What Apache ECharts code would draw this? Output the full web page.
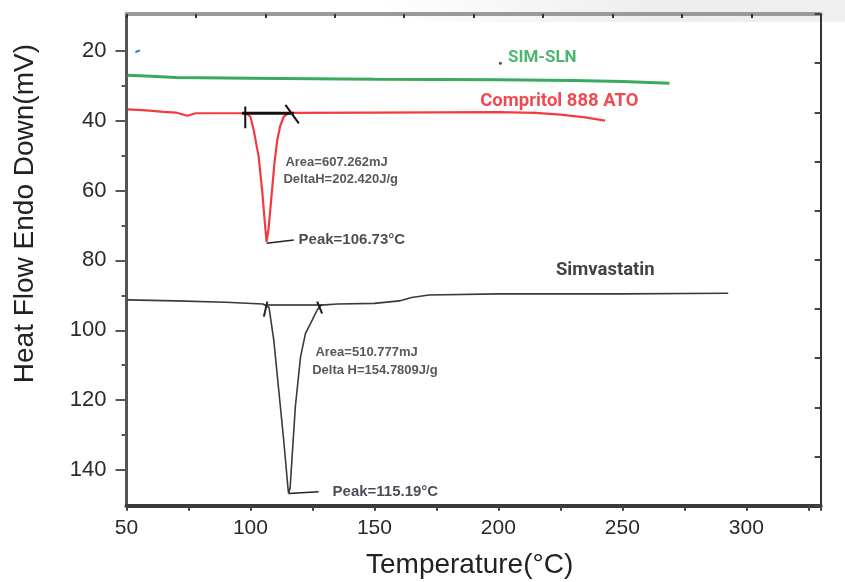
<!DOCTYPE html>
<html>
<head>
<meta charset="utf-8">
<script src="https://cdn.jsdelivr.net/npm/echarts@6/dist/echarts.min.js"></script>
<style>
html, body { margin: 0; padding: 0; background: #fff; }
#chart { width: 845px; height: 582px; }
</style>
</head>
<body>
<div id="chart"></div>
<script>
// DSC curves (temperature in °C, heat flow in mV, endo down)
const slnTemp  = [50.4, 60, 70, 100, 150, 200, 230, 250, 269];
const slnHeat  = [27.0, 27.3, 27.7, 27.9, 28.2, 28.3, 28.5, 28.8, 29.3];

const compTemp = [50.4, 58, 65, 70, 74.5, 78, 90, 97, 98.5, 100, 101.3, 103.3, 104.7, 105.8, 106.5, 107.3, 108.7, 109.7, 110.8, 112, 113.4, 115, 117.3, 150, 200, 215, 225, 235, 243];
const compHeat = [36.8, 37.1, 37.5, 37.7, 38.6, 37.9, 37.9, 37.9, 38.0, 38.9, 42.7, 50.3, 59.9, 69.3, 74.7, 71, 59.9, 52, 45.6, 41.5, 38.9, 38.1, 37.8, 37.7, 37.6, 37.8, 38.3, 39.1, 40.0];

const simvTemp = [50.4, 70, 90, 105, 107.5, 109.4, 111.4, 113.4, 115.2, 115.4, 116, 116.8, 118.1, 120.2, 122.2, 124.9, 126.9, 128.5, 135, 150, 160, 165, 172, 200, 250, 292.7];
const simvHeat = [91.3, 91.6, 92.0, 92.5, 93.5, 102.8, 117.1, 131.4, 145.7, 146.7, 145, 136.2, 121.9, 107.6, 100.9, 97.1, 94.2, 92.8, 92.5, 92.3, 91.6, 90.6, 89.9, 89.6, 89.6, 89.4];

// integration marks and leaders [temp, heat]
const compBase   = [[96.6, 37.9], [117.5, 37.9]];
const compLeft   = [[97.9, 36.0], [97.9, 42.2]];
const compRight  = [[114.1, 35.5], [119.5, 40.8]];
const compLeader = [[106.5, 75.1], [117.5, 74.2]];
const simvBase   = [[106.0, 92.8], [128.9, 92.8]];
const simvLeft   = [[105.4, 96.1], [106.8, 91.8]];
const simvRight  = [[126.9, 91.8], [128.9, 95.2]];
const simvLeader = [[115.4, 146.7], [115.6, 146.7], [127.5, 146.2]];
const blueDash   = [[53.6, 20.4], [55.4, 19.9]];

// text notes [temp, heat]
const noteText = ['Area=607.262mJ', 'DeltaH=202.420J/g', 'Peak=106.73°C', 'Area=510.777mJ', 'Delta H=154.7809J/g', 'Peak=115.19°C'];
const notePos  = [[114.1, 51.9], [113.3, 56.7], [119.4, 74.2], [126.2, 106.4], [124.9, 111.4], [133.1, 146.3]];
const noteSize = [13, 13, 15, 13, 13, 15];

const curveNames = ['SIM-SLN', 'Compritol 888 ATO', 'Simvastatin'];
const curveLabelPos = [[217.7, 22.1], [224.6, 34.4], [243.1, 82.8]];
const curveColors = ['#22a24c', '#ee1c24', '#111111'];
const curveSize = [17, 18.5, 18.5];

const yMajor = [20, 40, 60, 80, 100, 120, 140];
const yMinor = [30, 50, 70, 90, 110, 130];

function zip(a, b) { return a.map((v, i) => [v, b[i]]); }

function seg(data, color, width) {
    return {
        type: 'line', data: data, symbol: 'none', silent: true,
        lineStyle: { color: color, width: width }, z: 4
    };
}

const chart = echarts.init(document.getElementById('chart'));
const font = '"Liberation Sans", Arial, sans-serif';

const option = {
    animation: false,
    backgroundColor: '#fff',
    grid: { left: 126.5, right: 24.3, top: 14, bottom: 76.3 },
    graphic: [
        {
            type: 'rect', z: -1, silent: true,
            shape: { x: 380, y: 0, width: 465, height: 22 },
            style: {
                fill: new echarts.graphic.LinearGradient(0, 0, 1, 0, [
                    { offset: 0, color: 'rgba(235,235,235,0)' },
                    { offset: 0.6, color: 'rgba(236,236,236,0.9)' },
                    { offset: 1, color: 'rgba(240,240,240,1)' }
                ])
            }
        },
        {
            type: 'text', left: 11, top: 44, rotation: Math.PI / 2,
            style: {
                text: 'Heat Flow Endo Down(mV)', fill: '#222',
                font: '28px ' + font
            }
        },
        {
            type: 'text', left: 366, top: 551,
            style: {
                text: 'Temperature(°C)', fill: '#222',
                font: '28px ' + font
            }
        }
    ],
    xAxis: [
        {
            type: 'value', position: 'bottom', min: 50, max: 330, interval: 25,
            axisLine: { onZero: false, lineStyle: { color: '#3a3a3a', width: 4 } },
            axisTick: { length: 5, lineStyle: { color: '#444', width: 2 } },
            axisLabel: {
                margin: 12, fontSize: 21, color: '#2a2a2a', fontFamily: font,
                formatter: v => (v % 50 === 0 && v <= 300) ? String(v) : ''
            },
            splitLine: { show: false }
        },
        {
            type: 'value', position: 'top', min: 0, max: 10, interval: 1,
            axisLine: { onZero: false, lineStyle: { color: '#9a9a9a', width: 4 } },
            axisTick: { inside: true, length: 4, lineStyle: { color: '#333', width: 2 } },
            axisLabel: { show: false },
            splitLine: { show: false }
        }
    ],
    yAxis: [
        {
            type: 'value', position: 'left', inverse: true, min: 9.5, max: 150.2,
            axisLine: { onZero: false, lineStyle: { color: '#555', width: 3 } },
            axisTick: { customValues: yMajor, length: 11, lineStyle: { color: '#555', width: 2 } },
            axisLabel: {
                customValues: yMajor, margin: 20, fontSize: 22, color: '#2a2a2a', fontFamily: font
            },
            splitLine: { show: false }
        },
        {
            type: 'value', position: 'left', inverse: true, min: 9.5, max: 150.2,
            axisLine: { show: false },
            axisTick: { customValues: yMinor, length: 5, lineStyle: { color: '#555', width: 2 } },
            axisLabel: { show: false },
            splitLine: { show: false }
        },
        {
            type: 'value', position: 'right', inverse: true, min: 0, max: 10, interval: 1,
            axisLine: { onZero: false, lineStyle: { color: '#333', width: 2 } },
            axisTick: { inside: true, length: 6, lineStyle: { color: '#444', width: 2 } },
            axisLabel: { show: false },
            splitLine: { show: false }
        }
    ],
    series: [
        {
            name: 'SIM-SLN', type: 'line', data: zip(slnTemp, slnHeat), symbol: 'none',
            lineStyle: { color: '#3aab5e', width: 3 }, z: 3
        },
        {
            name: 'Compritol 888 ATO', type: 'line', data: zip(compTemp, compHeat), symbol: 'none',
            lineStyle: { color: '#f23a3f', width: 2.2 }, z: 3
        },
        {
            name: 'Simvastatin', type: 'line', data: zip(simvTemp, simvHeat), symbol: 'none',
            lineStyle: { color: '#3a3a3a', width: 1.6 }, z: 3
        },
        seg(compBase, '#111', 3),
        seg(compLeft, '#111', 2),
        seg(compRight, '#111', 2),
        seg(compLeader, '#222', 1.5),
        seg(simvBase, '#222', 1.5),
        seg(simvLeft, '#222', 2),
        seg(simvRight, '#222', 2),
        seg(simvLeader, '#222', 1.5),
        seg(blueDash, '#2f6fd6', 2),
        {
            type: 'scatter', symbolSize: 0, silent: true, z: 5,
            data: noteText.map((t, i) => ({
                name: t, value: notePos[i],
                label: { fontSize: noteSize[i], color: noteSize[i] > 13 ? '#1e1e2a' : '#2e2e2e' }
            })),
            label: {
                show: true, position: 'right', distance: 0,
                formatter: p => p.name, fontWeight: 'bold', fontFamily: font
            }
        },
        {
            type: 'scatter', symbolSize: 0, silent: true, z: 5,
            data: curveNames.map((t, i) => ({
                name: t, value: curveLabelPos[i],
                label: { color: curveColors[i], fontSize: curveSize[i] }
            })),
            label: {
                show: true, position: 'inside', formatter: p => p.name,
                fontWeight: 'bold',
                fontFamily: '"Liberation Sans Narrow", "Roboto", sans-serif'
            }
        },
        {
            type: 'scatter', symbolSize: 3, silent: true, z: 5,
            itemStyle: { color: '#222' },
            data: [[200.8, 23.6]]
        }
    ]
};

chart.setOption(option);
</script>
</body>
</html>
